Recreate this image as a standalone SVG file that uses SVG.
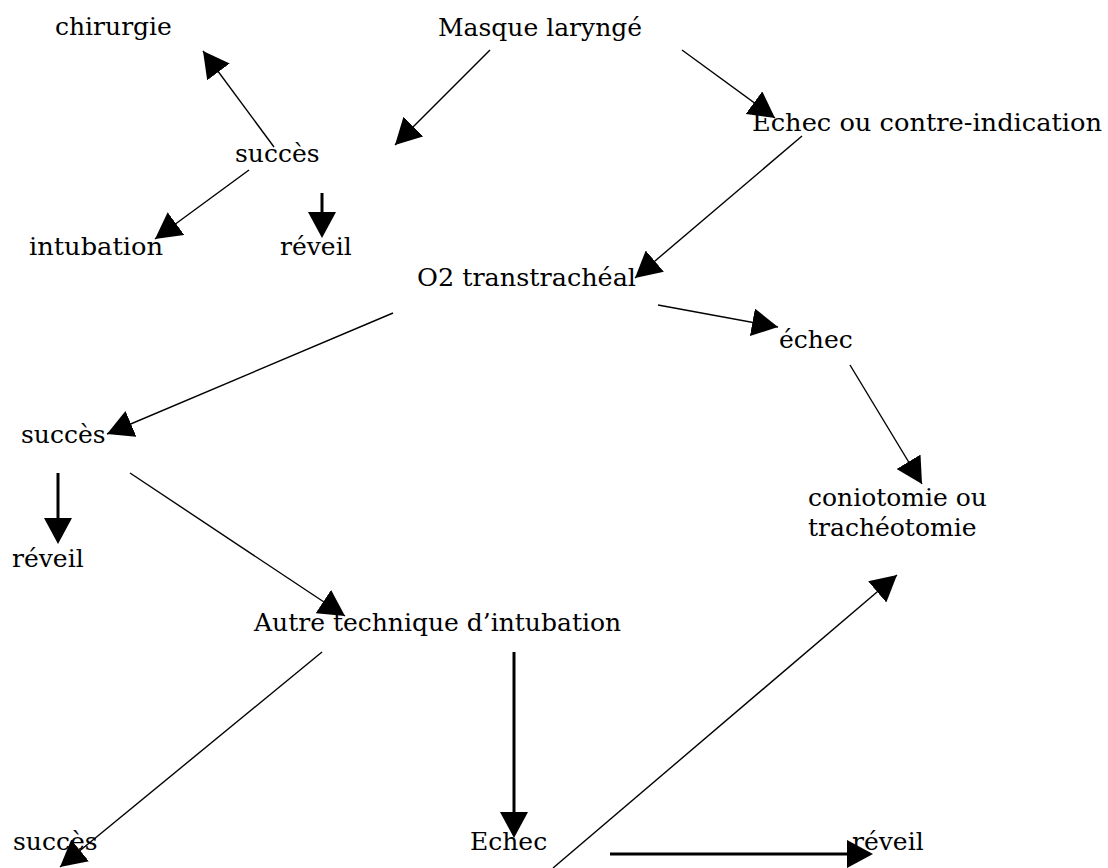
<svg xmlns="http://www.w3.org/2000/svg" width="1108" height="868" viewBox="0 0 1108 868">
<defs>
<style>
text{font-family:"DejaVu Serif","Liberation Serif",serif;font-size:25px;fill:#000}
.c line{stroke:#000;stroke-width:1.4;fill:none}
.c line.t{stroke-width:3}
</style>
<marker id="ah" markerUnits="userSpaceOnUse" markerWidth="28" markerHeight="28" refX="26" refY="14" orient="auto" viewBox="0 0 28 28">
<path d="M0,0 L26,14 L0,28 z" fill="#000"/>
</marker>
<marker id="aht" markerUnits="userSpaceOnUse" markerWidth="28" markerHeight="28" refX="20" refY="14" orient="auto" viewBox="0 0 28 28">
<path d="M0,0 L26,14 L0,28 z" fill="#000"/>
</marker>
</defs>
<rect width="1108" height="868" fill="#fff"/>
<g id="n-chirurgie"><text x="55" y="35">chirurgie</text></g>
<g id="n-masque"><text x="438" y="36">Masque laryngé</text></g>
<g id="n-succes1"><text x="235" y="162">succès</text></g>
<g id="n-echec-ci"><text x="752" y="131" textLength="350" lengthAdjust="spacingAndGlyphs">Echec ou contre-indication</text></g>
<g id="n-intubation"><text x="29" y="255" textLength="134" lengthAdjust="spacingAndGlyphs">intubation</text></g>
<g id="n-reveil1"><text x="280" y="255">réveil</text></g>
<g id="n-o2"><text x="417" y="286" textLength="219" lengthAdjust="spacingAndGlyphs">O2 transtrachéal</text></g>
<g id="n-echec2"><text x="779" y="348">échec</text></g>
<g id="n-succes2"><text x="21" y="443">succès</text></g>
<g id="n-conio"><text x="808" y="506">coniotomie ou</text><text x="808" y="536">trachéotomie</text></g>
<g id="n-reveil2"><text x="12" y="567">réveil</text></g>
<g id="n-autre"><text x="254" y="631">Autre technique d’intubation</text></g>
<g id="n-succes3"><text x="13" y="850">succès</text></g>
<g id="n-echec3"><text x="470" y="850">Echec</text></g>
<g id="n-reveil3"><text x="852" y="850">réveil</text></g>
<g id="connectors" class="c">
<line x1="490" y1="50" x2="395" y2="145" marker-end="url(#ah)"/>
<line x1="682" y1="50" x2="775" y2="118" marker-end="url(#ah)"/>
<line x1="802" y1="136" x2="635" y2="278" marker-end="url(#ah)"/>
<line x1="658" y1="305" x2="778" y2="327" marker-end="url(#ah)"/>
<line x1="850" y1="365" x2="922" y2="484" marker-end="url(#ah)"/>
<line x1="274" y1="147" x2="203" y2="51" marker-end="url(#ah)"/>
<line x1="249" y1="170" x2="155" y2="239" marker-end="url(#ah)"/>
<line class="t" x1="322" y1="193" x2="322" y2="232" marker-end="url(#aht)"/>
<line x1="393" y1="313" x2="107" y2="434" marker-end="url(#ah)"/>
<line class="t" x1="58" y1="473" x2="58" y2="538" marker-end="url(#aht)"/>
<line x1="130" y1="473" x2="345" y2="616" marker-end="url(#ah)"/>
<line x1="322" y1="652" x2="60" y2="867" marker-end="url(#ah)"/>
<line class="t" x1="514" y1="652" x2="514" y2="832" marker-end="url(#aht)"/>
<line x1="553" y1="868" x2="897" y2="575" marker-end="url(#ah)"/>
<line class="t" x1="610" y1="854" x2="867" y2="854" marker-end="url(#aht)"/>
</g>
</svg>
